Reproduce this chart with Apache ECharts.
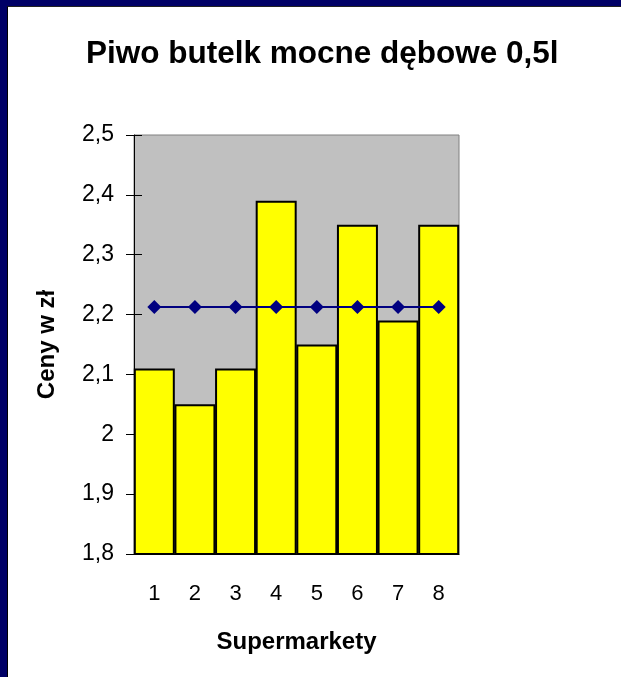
<!DOCTYPE html>
<html>
<head>
<meta charset="utf-8">
<script src="https://cdn.jsdelivr.net/npm/echarts@6/dist/echarts.min.js"></script>
<style>
  html, body { margin: 0; padding: 0; width: 621px; height: 677px; background: #000066; overflow: hidden; }
  #frame { position: absolute; left: 7px; top: 6px; width: 614px; height: 671px; border-left: 1px solid #000; border-top: 1px solid #222; box-sizing: border-box; background: #fff; }
  #chart { position: absolute; left: 0; top: 0; width: 613px; height: 670px; }
</style>
</head>
<body>
<div id="frame"><div id="chart"></div></div>
<script>
  // dane z wykresu
  var categories = ['1', '2', '3', '4', '5', '6', '7', '8'];
  var prices = [2.11, 2.05, 2.11, 2.39, 2.15, 2.35, 2.19, 2.35];
  var average = [2.2125, 2.2125, 2.2125, 2.2125, 2.2125, 2.2125, 2.2125, 2.2125];
  var yTickLabels = ['1,8', '1,9', '2', '2,1', '2,2', '2,3', '2,4', '2,5'];

  var font = 'Liberation Sans, Arial, sans-serif';
  var chart = echarts.init(document.getElementById('chart'));

  var yBase = {
    type: 'value',
    min: 1.8,
    max: 2.5,
    interval: 0.1,
    splitLine: { show: false }
  };

  chart.setOption({
    animation: false,
    title: {
      text: 'Piwo butelk mocne dębowe 0,5l',
      left: 73,
      top: 26,
      textStyle: { fontFamily: font, fontSize: 31.5, fontWeight: 'bold', color: '#000' }
    },
    grid: {
      left: 126,
      top: 128,
      width: 325,
      height: 419,
      show: true,
      backgroundColor: '#c0c0c0',
      borderColor: '#808080',
      borderWidth: 1
    },
    xAxis: {
      type: 'category',
      data: categories,
      name: 'Supermarkety',
      nameLocation: 'middle',
      nameGap: 76,
      nameTextStyle: { fontFamily: font, fontSize: 24, fontWeight: 'bold', color: '#000' },
      axisLine: { lineStyle: { color: '#000', width: 1 } },
      axisTick: { length: 8, lineStyle: { color: '#000' } },
      axisLabel: { margin: 29, fontFamily: font, fontSize: 22, color: '#000' }
    },
    yAxis: [
      Object.assign({}, yBase, {
        name: 'Ceny w zł',
        nameLocation: 'middle',
        nameGap: 75,
        nameTextStyle: { fontFamily: font, fontSize: 24, fontWeight: 'bold', color: '#000' },
        axisLine: { show: true, lineStyle: { color: '#000', width: 1 } },
        axisTick: { show: true, length: 8, lineStyle: { color: '#000' } },
        axisLabel: {
          margin: 20,
          fontFamily: font,
          fontSize: 23,
          color: '#000',
          formatter: function (v, i) { return yTickLabels[i]; }
        }
      }),
      // drugi raz ta sama oś - tylko kreski do środka
      Object.assign({}, yBase, {
        position: 'left',
        axisLine: { show: false },
        axisTick: { show: true, inside: true, length: 8, lineStyle: { color: '#000' } },
        axisLabel: { show: false }
      })
    ],
    series: [
      {
        type: 'bar',
        data: prices,
        barWidth: 41,
        itemStyle: { color: '#ffff00', borderColor: '#000', borderWidth: 2 }
      },
      {
        type: 'line',
        data: average,
        symbol: 'diamond',
        symbolSize: 14,
        lineStyle: { color: '#000080', width: 2 },
        itemStyle: { color: '#000080' },
        z: 5
      }
    ]
  });
</script>
</body>
</html>
